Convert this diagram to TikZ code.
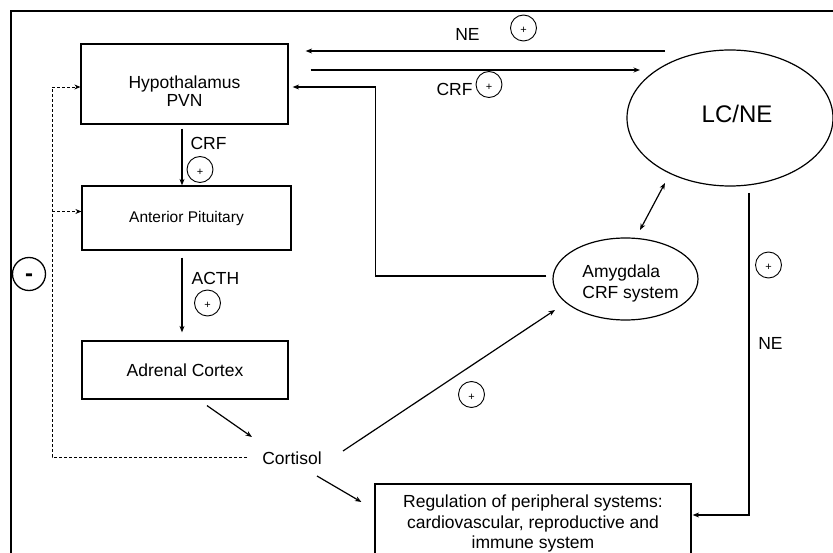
\documentclass[tikz,border=0pt]{standalone}
\usepackage{fontspec}
\setmainfont{Liberation Sans}
\usetikzlibrary{arrows.meta,calc,shapes.geometric}
\begin{document}
\begin{tikzpicture}[x=1pt,y=-1pt,
  lw/.style={line width=1.2pt},
  arr/.style={lw,-{Stealth[length=6.5pt,width=5pt]}},
  darr/.style={lw,{Stealth[length=6.5pt,width=5pt]}-{Stealth[length=6.5pt,width=5pt]}},
  dsh/.style={line width=0.8pt,dash pattern=on 3pt off 2pt},
  dsharr/.style={dsh,-{Stealth[length=6pt,width=5pt]}},
  txt/.style={font=\fontsize{17.5}{18}\selectfont,inner sep=0pt,align=center},
  boxnode/.style={draw,lw,inner sep=0pt,font=\fontsize{17.5}{18}\selectfont},
  ellnode/.style={draw,lw,ellipse,inner sep=0pt},
  lbl/.style={font=\fontsize{17.5}{18}\selectfont,inner sep=0pt},
  plusc/.style={draw,line width=0.9pt,circle,minimum size=26pt,inner sep=0pt,
    font=\fontsize{11}{11}\selectfont,text height=12pt,text depth=0pt},
  minusc/.style={draw,line width=1.3pt,circle,minimum size=33pt,inner sep=0pt,
    font=\fontsize{24}{24}\selectfont\bfseries,text height=15pt,text depth=0pt}
]
\useasboundingbox (0,0) rectangle (833,553);
\clip (0,0) rectangle (833,553);
\fill[white] (0,0) rectangle (833,553);

% frame
\draw[lw] (11,560) -- (11,11) -- (840,11);

% boxes
\node[boxnode, minimum width=207pt, minimum height=80pt] (hyp) at (184.5,84) {};
\node[txt] (hyptxt) at (184.5,91) {Hypothalamus\\PVN};
\node[boxnode, minimum width=209pt, minimum height=64pt, font=\fontsize{15.5}{18}\selectfont] (ap) at (186.5,218) {Anterior Pituitary};
\node[boxnode, minimum width=206pt, minimum height=58pt] (ac) at (185,370) {Adrenal Cortex};
\node[txt] (cort) at (292,458) {Cortisol};
\node[boxnode, minimum width=316pt, minimum height=90pt] (reg) at (533,529) {};
\node[txt, font=\fontsize{17.5}{20.5}\selectfont] (regtxt) at (533,523.5) {Regulation of peripheral systems:\\cardiovascular, reproductive and\\immune system};

% ellipses
\node[ellnode, minimum width=206pt, minimum height=136pt] (lc) at (730,118) {};
\node[font=\fontsize{24}{28}\selectfont, inner sep=0pt] (lctxt) at (737,113.5) {LC/NE};
\node[ellnode, minimum width=145pt, minimum height=82pt] (amy) at (625.5,279) {};
\node[txt, align=left, font=\fontsize{17.5}{21}\selectfont] (amytxt) at (630.5,283) {Amygdala\\CRF system};

% labels
\node[lbl] (lcrf1) at (208.5,143.5) {CRF};
\node[lbl] (lacth) at (215.5,278.5) {ACTH};
\node[lbl] (lne1) at (467.5,34) {NE};
\node[lbl] (lcrf2) at (454.5,89) {CRF};
\node[lbl] (lne2) at (770.5,343.5) {NE};

% plus circles
\node[plusc] (p1) at (200,169.5) {+};
\node[plusc] (p2) at (207.5,303) {+};
\node[plusc] (p3) at (471.5,394.5) {+};
\node[plusc] (p4) at (523.5,28) {+};
\node[plusc] (p5) at (489,84.5) {+};
\node[plusc] (p6) at (768.5,265) {+};
\node[minusc] (minus) at (29,274) {-};

% HPA axis arrows
\draw[arr] ($(hyp.south)+(-2.5,4)$) -- ($(ap.north)+(-4.5,0)$);
\draw[arr] ($(ap.south)+(-4.5,7)$) -- ($(ac.north)+(-3,-8)$);
\draw[arr] ($(ac.south)+(22,6)$) -- ($(cort.center)+(-40,-21)$);
\draw[arr] ($(cort.center)+(51,-7)$) -- ($(amy.center)+(-70.5,31)$);
\draw[arr] ($(cort.center)+(25,18)$) -- ($(reg.west)+(-13,-27)$);

% negative feedback (dashed)
\coordinate (dA) at (52,457);
\coordinate (dB) at (52,87);
\coordinate (dC) at (52,211.5);
\draw[dsh] ($(cort.center)+(-45,-1)$) -- (dA) -- (dB);
\draw[dsharr] (dB) -- (dB -| hyp.west);
\draw[dsharr] (dC) -- (dC -| ap.west);

% LC/NE connections
\draw[arr] ($(lc.center)+(-65,-67)$) -- ($(hyp.east)+(17,-33)$);
\draw[arr] ($(hyp.east)+(22,-14)$) -- ($(lc.center)+(-90,-48)$);
\draw[arr] ($(amy.west)+(-6,-3)$) -- ++(-171,0) |- ($(hyp.east)+(4,3)$);
\draw[darr] ($(lc.center)+(-65,65)$) -- ($(amy.center)+(14.5,-49)$);
\draw[arr] ($(lc.center)+(19,75)$) |- ($(reg.east)+(1,-14)$);
\end{tikzpicture}
\end{document}
